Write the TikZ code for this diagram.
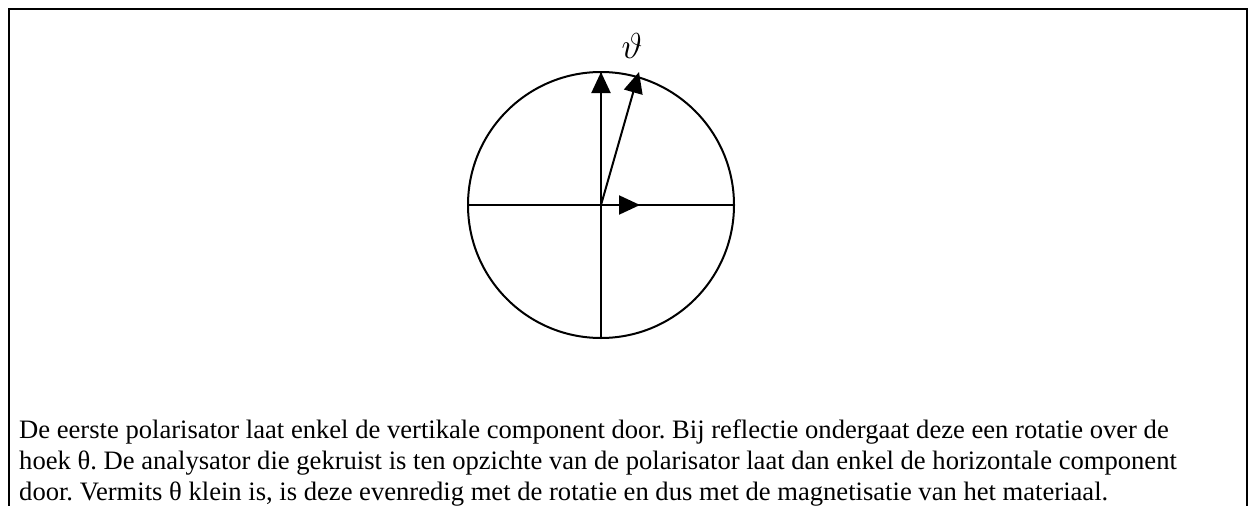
\documentclass[tikz,border=0pt]{standalone}
\usepackage{amssymb, amsmath}
\usepackage{graphicx}
\usepackage{fontspec}
\setmainfont{Liberation Serif}
\usetikzlibrary{arrows.meta}
\frenchspacing

\begin{document}
\begin{tikzpicture}[x=1pt, y=-1pt,
    axis/.style={line width=2},
    pol/.style={line width=2, -{Triangle[length=21, width=19]}},
    caption/.style={anchor=base west, inner sep=0, font=\fontsize{26.6}{31}\selectfont}]

  \pgfmathsetmacro{\r}{133}
  \pgfmathsetmacro{\xc}{601}
  \pgfmathsetmacro{\yc}{205}

  \useasboundingbox (0, 0) rectangle (1248, 506);

  \draw[line width=2.5] (9, 506) -- (9, 9) -- (1247, 9) -- (1247, 506);

  \coordinate (c) at (\xc, \yc);
  \coordinate (top) at (\xc, \yc - \r);
  \coordinate (bot) at (\xc, \yc + \r);
  \coordinate (lft) at (\xc - \r, \yc);
  \coordinate (rgt) at (\xc + \r, \yc);
  \coordinate (rot) at (639, 72);
  \coordinate (hor) at (640, \yc);

  \draw[axis] (c) circle (\r);
  \draw[axis] (lft) -- (rgt);
  \draw[axis] (top) -- (bot);

  \draw[pol] (c) -- (top);
  \draw[pol] (c) -- (rot);
  \draw[pol] (c) -- (hor);

  \node[inner sep=0] (angle) at (632, 46) {\scalebox{1.45}{\fontsize{24}{24}\selectfont$\vartheta$}};

  \node[caption] (line1) at (19, 438) {De eerste polarisator laat enkel de vertikale component door. Bij reflectie ondergaat deze een rotatie over de};
  \node[caption] (line2) at (19, 469) {hoek θ. De analysator die gekruist is ten opzichte van de polarisator laat dan enkel de horizontale component};
  \node[caption] (line3) at (19, 500) {door. Vermits θ klein is, is deze evenredig met de rotatie en dus met de magnetisatie van het materiaal.};

\end{tikzpicture}
\end{document}
